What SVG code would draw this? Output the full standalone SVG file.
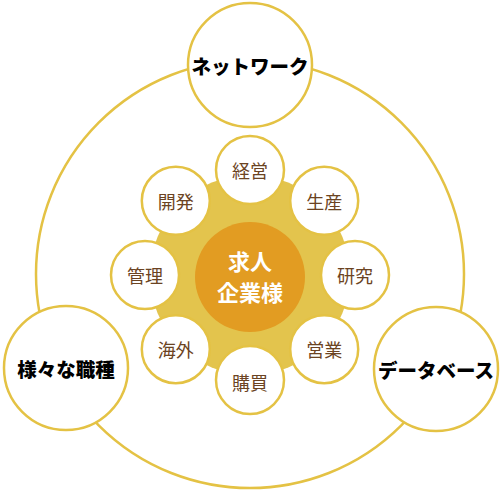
<svg xmlns="http://www.w3.org/2000/svg" width="500" height="492" viewBox="0 0 500 492">
<style>
.ring{fill:none;stroke:#e4c244;stroke-width:2.5}
.big{fill:#fff;stroke:#e4c244;stroke-width:2.5}
.small{fill:#fff;stroke:#e4c244;stroke-width:2.5}
.bt{font-family:"Noto Sans CJK JP","Noto Sans",sans-serif;font-weight:900;font-size:19.5px;fill:#000;text-anchor:middle;dominant-baseline:central}
.st{font-family:"Noto Sans CJK JP","Noto Sans",sans-serif;font-size:18px;fill:#6b4322;text-anchor:middle;dominant-baseline:central}
.ct{font-family:"Noto Sans CJK JP","Noto Sans",sans-serif;font-weight:bold;font-size:22px;fill:#fff;text-anchor:middle;dominant-baseline:central}
</style>
<rect width="500" height="492" fill="#fff"/>
<g id="connectors">
<circle class="ring" cx="250" cy="274" r="214"/>
</g>
<g id="network"><circle class="big" cx="250" cy="65" r="62"/><text class="bt" x="250" y="65">ネットワーク</text></g>
<g id="shokushu"><circle class="big" cx="66" cy="368" r="62"/><text class="bt" x="66" y="368">様々な職種</text></g>
<g id="database"><circle class="big" cx="436" cy="369" r="62"/><text class="bt" x="436" y="369">データベース</text></g>
<g id="hub">
<circle cx="250" cy="275" r="100" fill="#e3c44d"/>
</g>
<g id="center"><circle cx="250" cy="277" r="55" fill="#e29c22"/><text class="ct" x="250" y="260">求人</text><text class="ct" x="250" y="291">企業様</text></g>
<g id="keiei"><circle class="small" cx="250" cy="170" r="34"/><text class="st" x="250" y="170">経営</text></g>
<g id="seisan"><circle class="small" cx="324.2" cy="200.8" r="34"/><text class="st" x="324.2" y="200.8">生産</text></g>
<g id="kenkyu"><circle class="small" cx="355" cy="275" r="34"/><text class="st" x="355" y="275">研究</text></g>
<g id="eigyo"><circle class="small" cx="324.2" cy="349.2" r="34"/><text class="st" x="324.2" y="349.2">営業</text></g>
<g id="kobai"><circle class="small" cx="250" cy="380" r="34"/><text class="st" x="250" y="382">購買</text></g>
<g id="kaigai"><circle class="small" cx="175.8" cy="349.2" r="34"/><text class="st" x="175.8" y="349.2">海外</text></g>
<g id="kanri"><circle class="small" cx="145" cy="275" r="34"/><text class="st" x="145" y="275">管理</text></g>
<g id="kaihatsu"><circle class="small" cx="175.8" cy="200.8" r="34"/><text class="st" x="175.8" y="200.8">開発</text></g>
</svg>
